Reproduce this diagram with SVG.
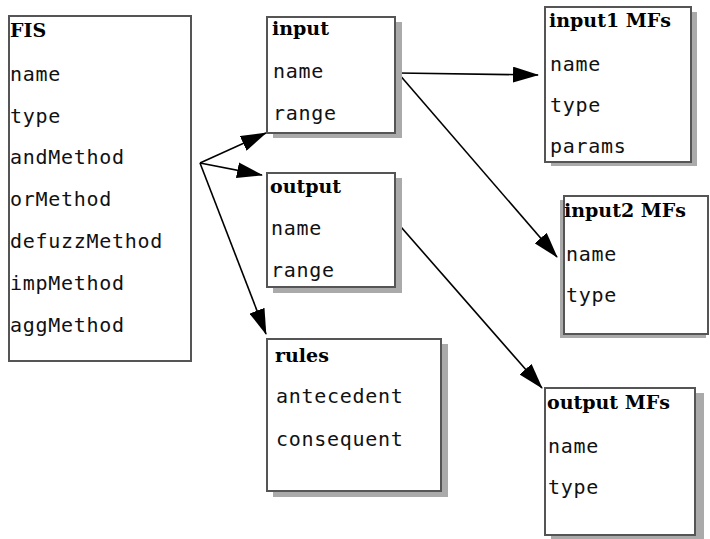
<svg xmlns="http://www.w3.org/2000/svg" width="710" height="539" viewBox="0 0 710 539">
<style>
.box{fill:#fff;stroke:#555;stroke-width:2}
.sh{fill:#aaa;stroke:none}
.t{font-family:"DejaVu Serif",serif;font-weight:bold;font-size:19px;fill:#000}
.f{font-family:"DejaVu Sans Mono",monospace;font-size:20px;letter-spacing:0.7px;fill:#111}
.c{stroke:#000;stroke-width:1.6;fill:none;marker-end:url(#ah)}
</style>
<defs>
<marker id="ah" markerUnits="userSpaceOnUse" viewBox="0 0 26 16" refX="25" refY="8" markerWidth="26" markerHeight="16" orient="auto">
<path d="M0,0 L26,8 L0,16 z" fill="#000"/>
</marker>
</defs>
<rect width="710" height="539" fill="#fff"/>
<g id="connectors">
<line class="c" x1="200" y1="163" x2="266" y2="133"/>
<line class="c" x1="200" y1="163" x2="262" y2="175"/>
<line class="c" x1="200" y1="163" x2="266" y2="334"/>
<line class="c" x1="398" y1="73" x2="538" y2="75"/>
<line class="c" x1="398" y1="73" x2="557" y2="257"/>
<line class="c" x1="401" y1="227" x2="542" y2="388"/>
</g>
<g id="fis">
<rect class="box" x="9" y="16" width="182" height="345"/>
<text class="t" x="10" y="37">FIS</text>
<text class="f" x="10" y="81">name</text>
<text class="f" x="10" y="123">type</text>
<text class="f" x="10" y="164">andMethod</text>
<text class="f" x="10" y="206">orMethod</text>
<text class="f" x="10" y="248">defuzzMethod</text>
<text class="f" x="10" y="290">impMethod</text>
<text class="f" x="10" y="332">aggMethod</text>
</g>
<g id="input">
<rect class="sh" x="273" y="22" width="129" height="116"/>
<rect class="box" x="267" y="17" width="128" height="116"/>
<text class="t" x="272" y="35">input</text>
<text class="f" x="273" y="78">name</text>
<text class="f" x="273" y="120">range</text>
</g>
<g id="output">
<rect class="sh" x="273" y="178" width="129" height="115"/>
<rect class="box" x="267" y="173" width="128" height="114"/>
<text class="t" x="270" y="193">output</text>
<text class="f" x="271" y="235">name</text>
<text class="f" x="271" y="277">range</text>
</g>
<g id="rules">
<rect class="sh" x="273" y="344" width="175" height="153"/>
<rect class="box" x="267" y="339" width="174" height="152"/>
<text class="t" x="275" y="362">rules</text>
<text class="f" x="276" y="403">antecedent</text>
<text class="f" x="276" y="446">consequent</text>
</g>
<g id="input1-mfs">
<rect class="sh" x="551" y="12" width="146" height="154"/>
<rect class="box" x="545" y="7" width="146" height="155"/>
<text class="t" x="549" y="27">input1 MFs</text>
<text class="f" x="550" y="71">name</text>
<text class="f" x="550" y="112">type</text>
<text class="f" x="550" y="153">params</text>
</g>
<g id="input2-mfs">
<rect class="sh" x="560" y="200" width="146" height="138"/>
<rect class="box" x="564" y="196" width="144" height="138"/>
<text class="t" x="564" y="217">input2 MFs</text>
<text class="f" x="566" y="261">name</text>
<text class="f" x="566" y="302">type</text>
</g>
<g id="output-mfs">
<rect class="sh" x="551" y="393" width="153" height="147"/>
<rect class="box" x="545" y="388" width="150" height="147"/>
<text class="t" x="547" y="409">output MFs</text>
<text class="f" x="548" y="453">name</text>
<text class="f" x="548" y="494">type</text>
</g>
</svg>
